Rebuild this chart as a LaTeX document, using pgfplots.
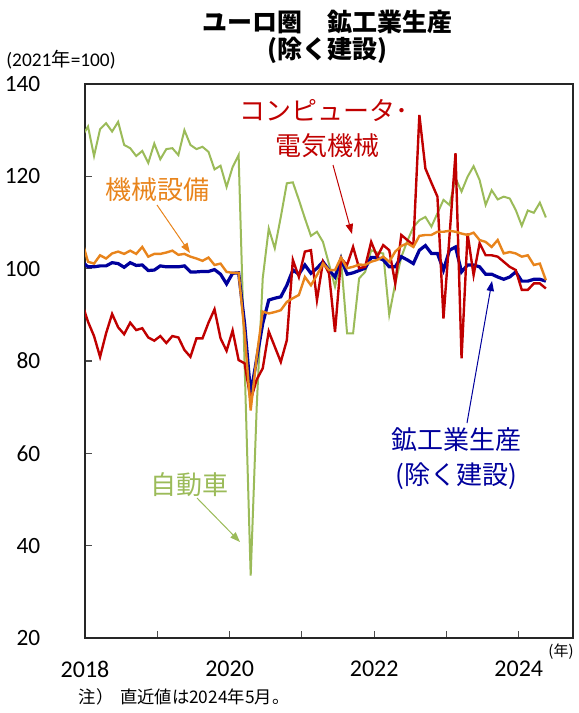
\documentclass[border=0pt]{standalone}
\usepackage{fontspec}
\usepackage{pgfplots}
\usepackage{pgfplotstable}
\pgfplotsset{compat=1.18}
\usetikzlibrary{arrows.meta}
\setmainfont{Carlito}
\newfontfamily\jp{Noto Sans CJK JP}
\definecolor{ipnavy}{HTML}{00009C}
\definecolor{machor}{HTML}{E8841C}
\definecolor{elecred}{HTML}{C00000}
\definecolor{cargreen}{HTML}{9BBB59}

% month index i: 0 = Jan 2018 ... 76 = May 2024 (i=-1 is clipped at the axis)
\pgfplotstableread{
i ip mach elec car
-1 101.5 106.0 92.5 128.6
0 100.4 101.5 88.5 130.8
1 100.4 101.1 85.4 124.4
2 100.6 102.9 80.9 130.2
3 100.6 102.2 86.0 131.5
4 101.3 103.3 90.2 129.7
5 101.1 103.7 87.3 131.8
6 100.3 103.2 85.8 126.8
7 101.3 103.9 88.3 126.1
8 100.7 103.2 86.7 124.4
9 100.8 104.7 87.1 125.5
10 99.6 102.6 85.1 122.9
11 99.7 103.2 84.4 127.1
12 100.6 103.2 85.4 123.7
13 100.4 103.5 83.9 125.9
14 100.4 103.9 85.4 126.1
15 100.4 103.0 85.1 124.6
16 100.6 103.2 82.4 130.0
17 99.3 102.6 80.9 126.8
18 99.3 102.2 84.9 125.9
19 99.4 101.7 84.9 126.4
20 99.4 102.4 88.3 125.3
21 99.8 100.8 91.2 121.5
22 98.8 101.1 84.9 122.3
23 96.7 99.3 82.2 117.7
24 99.0 99.1 86.6 122.0
25 99.1 99.1 80.2 124.6
26 88.0 86.0 79.5 79.0
27 72.8 69.3 71.5 33.5
28 80.5 81.0 76.0 70.0
29 88.1 90.7 78.4 97.9
30 93.2 90.3 86.4 108.7
31 93.6 90.6 83.1 104.4
32 93.9 91.0 79.8 111.2
33 96.4 92.8 84.5 118.5
34 99.7 93.6 101.9 118.7
35 98.8 94.3 98.2 114.9
36 100.8 98.2 103.7 110.9
37 99.0 96.4 104.0 107.1
38 100.1 98.6 93.2 108.0
39 101.5 101.1 101.5 105.8
40 99.7 99.7 99.0 101.0
41 98.2 99.7 86.3 96.1
42 102.2 102.4 102.2 101.9
43 98.8 100.1 100.8 86.0
44 99.1 100.4 104.7 86.0
45 99.6 100.9 100.1 97.9
46 100.1 100.8 100.4 99.3
47 102.4 101.5 105.8 104.0
48 102.4 101.9 102.6 103.5
49 101.9 102.6 105.1 103.3
50 100.4 101.5 104.0 90.0
51 100.4 103.7 96.8 96.8
52 102.6 104.9 107.3 102.5
53 101.9 105.5 106.2 106.0
54 101.1 104.7 105.1 109.0
55 104.0 107.1 133.3 110.5
56 105.0 107.3 121.7 111.2
57 103.3 107.3 118.6 109.1
58 103.3 108.0 115.6 112.0
59 99.7 108.0 89.2 114.9
60 104.0 108.2 107.0 113.8
61 104.7 108.0 125.0 119.6
62 99.3 107.6 80.6 116.7
63 100.8 107.3 107.6 119.9
64 100.8 107.8 98.6 122.2
65 100.4 106.2 105.5 119.2
66 98.8 105.8 102.9 113.8
67 98.8 104.7 102.9 117.0
68 98.2 106.2 102.6 115.0
69 97.7 103.3 101.5 115.6
70 98.2 103.6 100.4 115.2
71 99.3 103.3 99.7 112.7
72 97.3 102.6 95.4 109.3
73 97.3 102.9 95.4 112.6
74 97.7 100.8 96.8 112.1
75 97.7 101.1 96.8 114.3
76 97.3 97.5 95.7 111.1
}\datatab

\begin{document}
\begin{tikzpicture}
\begin{scope}[x=0.75pt,y=-0.75pt]
\useasboundingbox (0,0) rectangle (577,713);
\end{scope}

\begin{axis}[
    at={(63.75pt,-478.5pt)}, anchor=south west,
    scale only axis, width=366pt, height=415.5pt,
    xmin=0, xmax=81, ymin=20, ymax=140,
    axis line style={draw=black!85, line width=1.2pt},
    tick pos=left, tick align=inside,
    major tick length=5.25pt,
    tick style={draw=black!70, line width=0.9pt},
    xtick={0,12,24,36,48,60,72},
    xticklabels={2018,,2020,,2022,,2024},
    ytick={20,40,60,80,100,120,140},
    /pgf/number format/assume math mode=true,
    xticklabel style={font=\fontsize{18}{18}\selectfont, yshift=-14pt},
    yticklabel style={font=\fontsize{17.5}{18}\selectfont, xshift=-30pt},
    clip=true,
]
\addplot[cargreen, line width=1.5pt] table[x expr=\thisrow{i}+0.5, y=car] {\datatab};
\addplot[ipnavy, line width=2.4pt] table[x expr=\thisrow{i}+0.5, y=ip] {\datatab};
\addplot[elecred, line width=1.8pt] table[x expr=\thisrow{i}+0.5, y=elec] {\datatab};
\addplot[machor, line width=1.8pt] table[x expr=\thisrow{i}+0.5, y=mach] {\datatab};
\end{axis}

\begin{scope}[x=0.75pt,y=-0.75pt]
\node[font=\jp\bfseries\fontsize{18.75}{20}\selectfont] at (327,22) {ユーロ圏　鉱工業生産};
\node[font=\jp\bfseries\fontsize{18.75}{20}\selectfont] at (327,50) {(除く建設)};
\node[font=\fontsize{14.5}{15}\selectfont] at (61,60) {(2021{\jp 年}=100)};
\node[font=\jp\fontsize{11.25}{12}\selectfont] at (561,652) {(年)};
\node[font=\jp\fontsize{13}{13}\selectfont, anchor=west] at (74,697) {注）\hspace{5pt}直近値は2024年5月。};

\node[elecred, font=\jp\fontsize{19.5}{20}\selectfont] at (324,110) {コンピュータ･};
\node[elecred, font=\jp\fontsize{19.5}{20}\selectfont] at (327,146) {電気機械};
\draw[elecred, line width=0.75pt, -{Triangle[length=7.5pt,width=5.5pt]}] (333,165) -- (352,234);

\node[machor, font=\jp\fontsize{19.5}{20}\selectfont] at (157,190) {機械設備};
\draw[machor, line width=0.75pt, -{Triangle[length=7.5pt,width=5.5pt]}] (157,205) -- (190,253);

\node[cargreen, font=\jp\fontsize{19.5}{20}\selectfont] at (189,485) {自動車};
\draw[cargreen, line width=0.75pt, -{Triangle[length=7.5pt,width=5.5pt]}] (197,498) -- (240,542);

\node[ipnavy, font=\jp\fontsize{19.5}{20}\selectfont] at (456,440) {鉱工業生産};
\node[ipnavy, font=\jp\fontsize{19.5}{20}\selectfont] at (456,476) {(除く建設)};
\draw[ipnavy, line width=0.75pt, -{Triangle[length=7.5pt,width=5.5pt]}] (467,423) -- (492,281);
\end{scope}
\end{tikzpicture}
\end{document}
